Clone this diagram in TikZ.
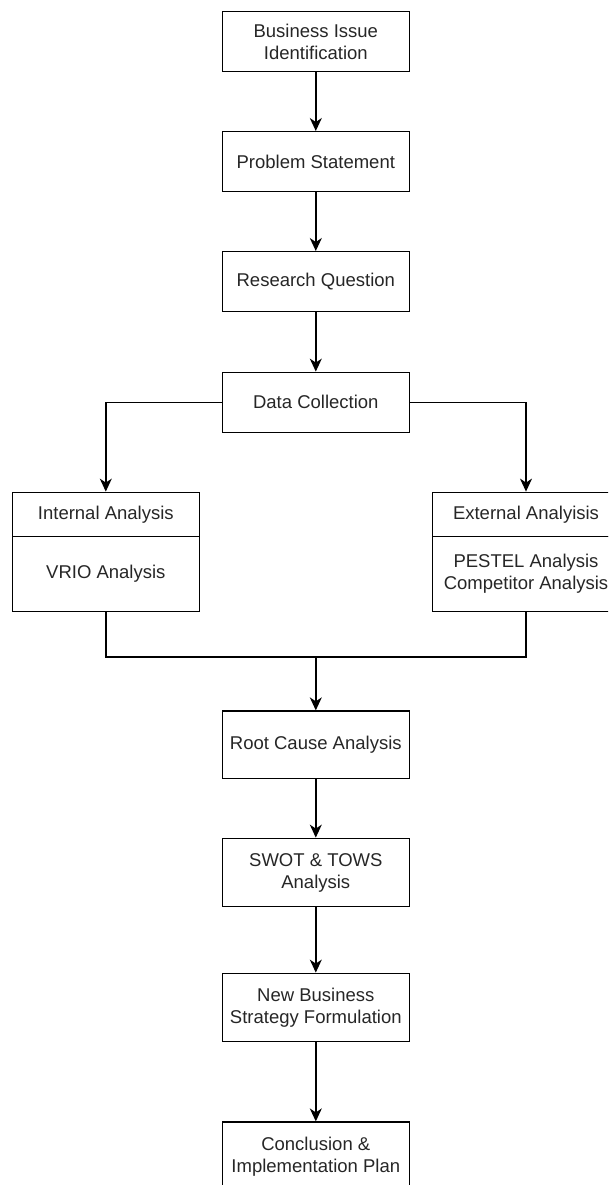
\documentclass[tikz,border=0pt]{standalone}
\usepackage{fontspec}
\setmainfont{Liberation Sans}
\usetikzlibrary{arrows.meta}

\begin{document}
\begin{tikzpicture}[x=1pt, y=-1pt, line width=1.4pt,
  >={Stealth[length=13pt, width=12pt, inset=4pt]}]

\useasboundingbox (0,0) rectangle (608,1185);
\clip (0,0) rectangle (608,1185);

\begin{scope}[rectangle, draw, minimum width=187pt, align=center,
  font=\fontsize{18.5}{22}\selectfont, inner sep=0pt, text=black!85]
  \node[draw, minimum height=60pt] (issue)      at (315.8,  41.5) {Business Issue\\Identification};
  \node[draw, minimum height=60pt] (problem)    at (315.8, 161.7) {Problem Statement};
  \node[draw, minimum height=60pt] (question)   at (315.8, 281.7) {Research Question};
  \node[draw, minimum height=60pt] (collect)    at (315.8, 402.3) {Data Collection};

  \node[draw, minimum height=44.4pt] (intHead)  at (105.8, 514.5) {Internal Analysis};
  \node[draw, minimum height=75pt]   (intBody)  at (105.8, 574.2) {VRIO Analysis};
  \node[draw, minimum height=44.4pt] (extHead)  at (526.0, 514.5) {External Analyisis};
  \node[draw, minimum height=75pt]   (extBody)  at (526.0, 574.2) {PESTEL Analysis\\Competitor Analysis};

  \node[draw, minimum height=67.3pt] (rootCause)  at (315.8, 744.7) {Root Cause Analysis};
  \node[draw, minimum height=68.4pt] (swot)       at (315.8, 872.5) {SWOT \& TOWS\\Analysis};
  \node[draw, minimum height=68.4pt] (strategy)   at (315.8,1007.5) {New Business\\Strategy Formulation};
  \node[draw, minimum height=68.4pt] (conclusion) at (315.8,1156.3) {Conclusion \&\\Implementation Plan};

  \coordinate (merge) at (315.8, 657.0);

  \draw[->] (issue) -- (problem);
  \draw[->] (problem) -- (question);
  \draw[->] (question) -- (collect);

  \draw[->] (collect.west) -| (intHead.north);
  \draw[->] (collect.east) -| (extHead.north);

  \draw (intBody.south) |- (merge) -| (extBody.south);
  \draw[->] (merge) -- (rootCause);

  \draw[->] (rootCause) -- (swot);
  \draw[->] (swot) -- (strategy);
  \draw[->] (strategy) -- (conclusion);
\end{scope}

\end{tikzpicture}
\end{document}
